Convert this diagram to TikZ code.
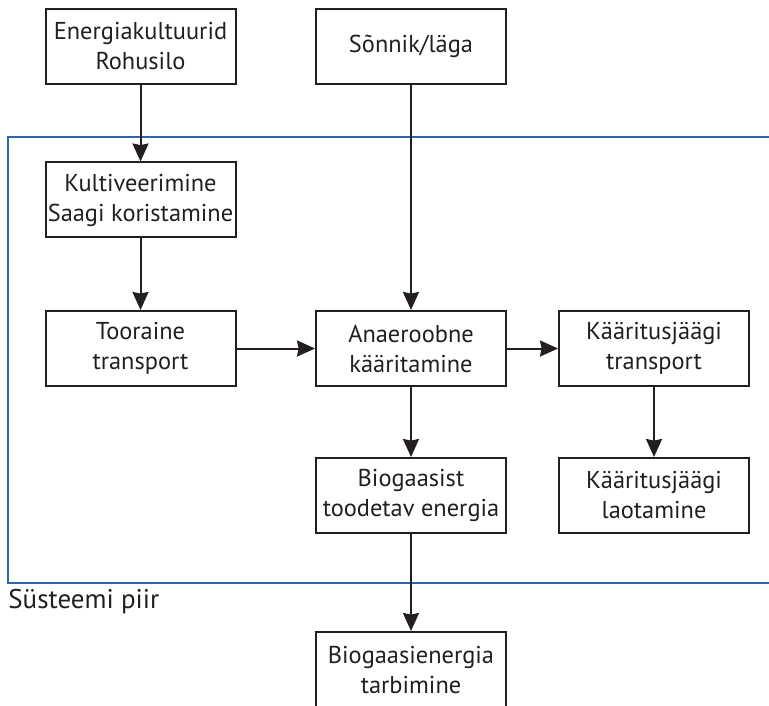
\documentclass[tikz,border=0pt]{standalone}
\usepackage{fontspec}
\setmainfont{PT Sans}
\usepackage{tikz}
\usetikzlibrary{arrows.meta}
\definecolor{ink}{RGB}{35,31,32}
\definecolor{piir}{RGB}{48,100,178}
\tikzset{
  step box/.style={draw=ink,line width=1pt,minimum width=95pt,minimum height=37.5pt,
    align=center,inner xsep=1pt,inner ysep=2pt,text=ink,font=\fontsize{12.2}{15}\selectfont},
  flow/.style={draw=ink,line width=1pt,-{Stealth[length=9pt,width=8pt,inset=0.8pt]}}
}
\begin{document}
\begin{tikzpicture}[x=0.5pt,y=-0.5pt]
  \useasboundingbox (0,0) rectangle (769,705);
  \clip (0,0) rectangle (769,705);
  % system boundary
  \draw[piir,line width=1pt] (8,137) rectangle (790,583);
  \node[anchor=base west,inner sep=0pt,text=ink,font=\fontsize{13.5}{15}\selectfont] (piir) at (8,608) {Süsteemi piir};
  % boxes
  \node[step box] (energia) at (140.5,46.5) {Energiakultuurid\\Rohusilo};
  \node[step box] (sonnik) at (411,46.5) {Sõnnik/läga};
  \node[step box] (kult) at (140.5,200) {Kultiveerimine\\Saagi koristamine};
  \node[step box] (toor) at (140.5,348.5) {Tooraine\\transport};
  \node[step box] (anaer) at (411,348.5) {Anaeroobne\\kääritamine};
  \node[step box] (kaartr) at (654,348.5) {Kääritusjäägi\\transport};
  \node[step box] (biogaas) at (411,495.5) {Biogaasist\\toodetav energia};
  \node[step box] (laot) at (654,495.5) {Kääritusjäägi\\laotamine};
  \node[step box] (tarb) at (411,669.5) {Biogaasienergia\\tarbimine};
  % arrows
  \draw[flow] (energia) -- (kult);
  \draw[flow] (kult) -- (toor);
  \draw[flow] (sonnik) -- (anaer);
  \draw[flow] (toor) -- (anaer);
  \draw[flow] (anaer) -- (kaartr);
  \draw[flow] (anaer) -- (biogaas);
  \draw[flow] (kaartr) -- (laot);
  \draw[flow] (biogaas) -- (tarb);
\end{tikzpicture}
\end{document}
